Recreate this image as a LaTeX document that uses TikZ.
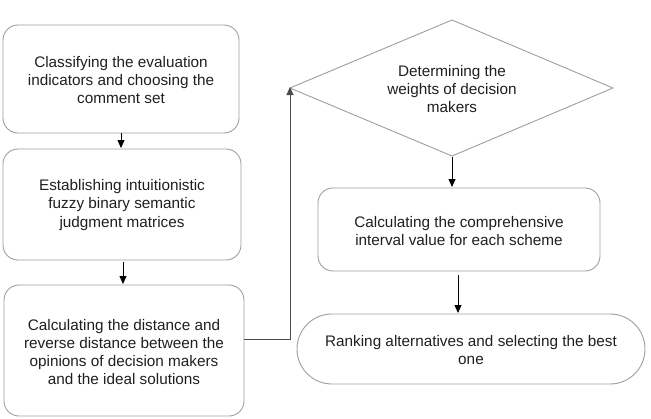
\documentclass[tikz,border=0pt]{standalone}
\usepackage{fontspec}
\setmainfont{Liberation Sans}
\usetikzlibrary{shapes.geometric,arrows.meta}
\begin{document}
\begin{tikzpicture}[x=1pt,y=-1pt,
  box/.style={draw=black!38,line width=0.9pt,rounded corners=15pt},
  txt/.style={align=center,font=\fontsize{15.3}{18.3}\selectfont,text=black!88},
  arr/.style={-{Triangle[width=7pt,length=8pt]},line width=0.8pt,black},
  conn/.style={-{Triangle[width=7pt,length=8pt]},line width=1pt,black!70}]
\useasboundingbox (0,0) rectangle (651,418);
% boxes
\draw[box] (3,25) rectangle (239,133);
\node[txt] (b1) at (121,80) {Classifying the evaluation\\indicators and choosing the\\comment set};
\draw[box] (3,149) rectangle (241,260);
\node[txt] (b2) at (122,205) {Establishing intuitionistic\\fuzzy binary semantic\\judgment matrices};
\draw[box] (4,285) rectangle (244,416);
\node[txt] (b3) at (124,352) {Calculating the distance and\\reverse distance between the\\opinions of decision makers\\and the ideal solutions};
\draw[draw=black!38,line width=0.9pt] (290,88) -- (452,20) -- (613,88) -- (452,156) -- cycle;
\node[txt] (d) at (452,89) {Determining the\\weights of decision\\makers};
\draw[box] (318,188) rectangle (600,271);
\node[txt] (b4) at (459,231) {Calculating the comprehensive\\interval value for each scheme};
\draw[draw=black!38,line width=0.9pt,rounded corners=34.9pt] (297,314) rectangle (645,384);
\node[txt] (b5) at (471,350) {Ranking alternatives and selecting the best\\one};
% coordinates
\coordinate (a1s) at (121,133);
\coordinate (a1e) at (121,148);
\coordinate (a2s) at (123,262);
\coordinate (a2e) at (123,284);
\coordinate (c0) at (244,339);
\coordinate (c1) at (290,339);
\coordinate (c2) at (290,87);
\coordinate (a3s) at (452,157);
\coordinate (a3e) at (452,187);
\coordinate (a4s) at (458,275);
\coordinate (a4e) at (458,313);
\draw[arr] (a1s) -- (a1e);
\draw[arr] (a2s) -- (a2e);
\draw[conn] (c0) -- (c1) -- (c2);
\draw[arr] (a3s) -- (a3e);
\draw[arr] (a4s) -- (a4e);
\end{tikzpicture}
\end{document}
